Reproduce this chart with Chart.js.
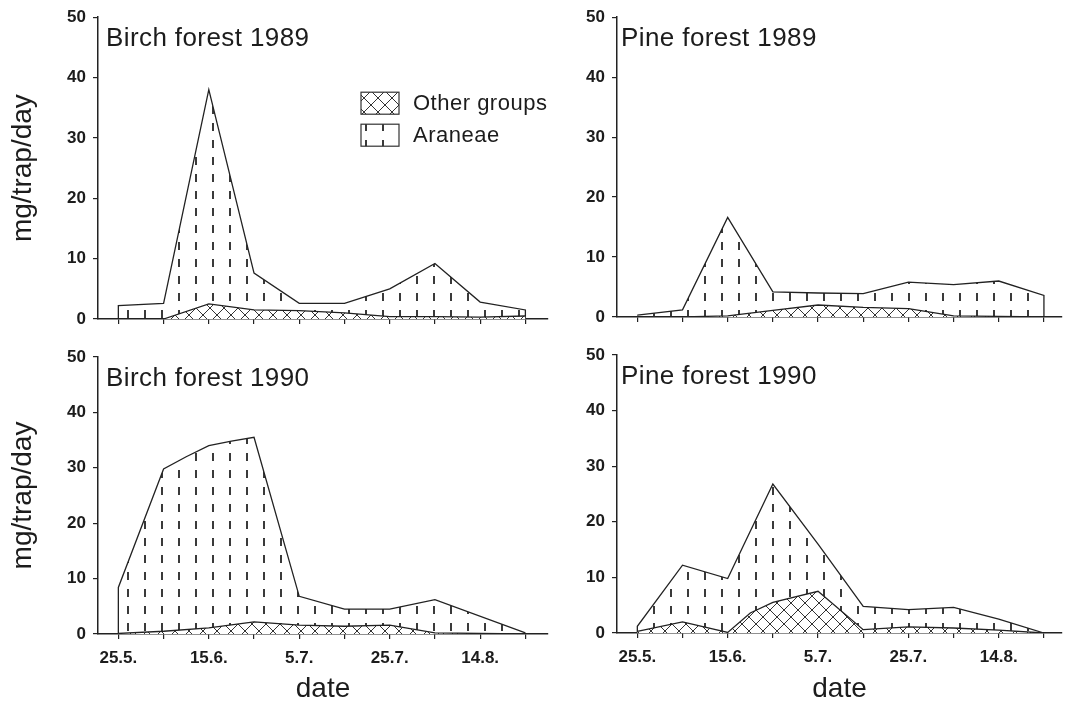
<!DOCTYPE html>
<html>
<head>
<meta charset="utf-8">
<script src="https://cdn.jsdelivr.net/npm/chart.js@4.4.1/dist/chart.umd.min.js"></script>
<style>
  html, body { margin: 0; padding: 0; background: #fff; }
  #wrap { position: relative; width: 1065px; height: 703px; overflow: hidden; }
  canvas { position: absolute; }
</style>
</head>
<body>
<div id="wrap">
  <canvas id="birch89" width="560" height="340" style="left:0;top:0"></canvas>
  <canvas id="pine89" width="505" height="340" style="left:560px;top:0"></canvas>
  <canvas id="birch90" width="560" height="373" style="left:0;top:330px"></canvas>
  <canvas id="pine90" width="505" height="373" style="left:560px;top:330px"></canvas>
</div>
<script>
// x = days after 25 May
const tickDays = [0, 10, 20, 30, 40, 50, 60, 70, 80, 90];
const tickLabels = ['25.5.', '', '15.6.', '', '5.7.', '', '25.7.', '', '14.8.', ''];

// upper outline = Araneae (stacked on other groups)
const birch89AraneaeDays = [0, 0, 10, 20, 30, 40, 50, 60, 70, 80, 90, 90];
const birch89Araneae = [0, 2.2, 2.6, 38, 7.6, 2.6, 2.6, 5, 9.2, 2.8, 1.5, 0];
const birch89OtherDays = [0, 10, 20, 30, 40, 50, 60, 70, 80, 90];
const birch89Other = [0, 0, 2.5, 1.5, 1.4, 1.0, 0.4, 0.4, 0.3, 0.5];

const pine89AraneaeDays = [0, 10, 20, 30, 40, 50, 60, 70, 80, 90, 90];
const pine89Araneae = [0.3, 1.2, 16.6, 4.2, 4.0, 3.9, 5.8, 5.4, 6.0, 3.6, 0];
const pine89OtherDays = [0, 10, 20, 30, 40, 50, 60, 70, 80, 90];
const pine89Other = [0, 0, 0.2, 1.1, 2.0, 1.6, 1.4, 0.2, 0.1, 0];

const birch90AraneaeDays = [0, 0, 10, 15, 20, 25, 30, 40, 50, 60, 70, 90];
const birch90Araneae = [0, 8.4, 29.8, 32, 34, 34.8, 35.5, 6.8, 4.5, 4.5, 6.2, 0.2];
const birch90OtherDays = [0, 10, 20, 30, 40, 50, 60, 70, 80, 90];
const birch90Other = [0.1, 0.5, 1.1, 2.2, 1.6, 1.4, 1.6, 0.2, 0.1, 0];

const pine90AraneaeDays = [0, 0, 10, 20, 30, 40, 50, 60, 70, 80, 90];
const pine90Araneae = [0, 1.2, 12.2, 9.8, 26.8, 16, 4.8, 4.2, 4.6, 2.5, 0];
const pine90OtherDays = [0, 10, 20, 25, 30, 40, 50, 60, 70, 80, 90];
const pine90Other = [0.3, 2.0, 0.1, 3.6, 5.5, 7.5, 0.6, 1.1, 0.9, 0.5, 0];

const FONT = '"Liberation Sans", Arial, Helvetica, sans-serif';
const INK = '#1c1c1c';
Chart.defaults.font.family = FONT;
Chart.defaults.color = INK;

function pts(xs, ys) {
    return xs.map((x, i) => ({ x: x, y: ys[i] }));
}

// vertical dash fill (Araneae)
function dashPattern() {
    const c = document.createElement('canvas');
    c.width = 17; c.height = 17;
    const g = c.getContext('2d');
    g.fillStyle = '#3a3a3a';
    g.fillRect(8, 4, 2, 8);
    return g.createPattern(c, 'repeat');
}

// cross hatch fill (other groups)
function hatchPattern() {
    const s = 14;
    const c = document.createElement('canvas');
    c.width = s; c.height = s;
    const g = c.getContext('2d');
    g.fillStyle = '#fff';
    g.fillRect(0, 0, s, s);
    g.strokeStyle = '#333';
    g.lineWidth = 1;
    g.beginPath();
    g.moveTo(0, 0); g.lineTo(s, s);
    g.moveTo(s, 0); g.lineTo(0, s);
    g.stroke();
    return g.createPattern(c, 'repeat');
}

const dashes = dashPattern();
const hatch = hatchPattern();

const panelTitle = {
    id: 'panelTitle',
    afterDraw(chart, args, o) {
        const { ctx, chartArea } = chart;
        ctx.save();
        ctx.font = '26px ' + FONT;
        ctx.letterSpacing = '0.4px';
        ctx.fillStyle = INK;
        ctx.textBaseline = 'alphabetic';
        ctx.fillText(o.text, chartArea.left + o.dx, chartArea.top + 29);
        ctx.restore();
    }
};

const areaLegend = {
    id: 'areaLegend',
    afterDraw(chart, args, o) {
        if (!o.show) return;
        const { ctx, chartArea } = chart;
        const x = chartArea.left + 263;
        const y0 = chartArea.top + 75;
        ctx.save();
        chart.data.datasets.forEach((ds, i) => {
            const y = y0 + i * 32;
            ctx.fillStyle = ds.backgroundColor;
            ctx.fillRect(x, y, 38, 22);
            ctx.strokeStyle = '#333';
            ctx.lineWidth = 1.2;
            ctx.strokeRect(x, y, 38, 22);
            ctx.fillStyle = INK;
            ctx.font = '22px ' + FONT;
            ctx.letterSpacing = '0.5px';
            ctx.textBaseline = 'middle';
            ctx.fillText(ds.label, x + 52, y + 12);
        });
        ctx.restore();
    }
};

function makePanel(id, title, araneae, other, cfg) {
    return new Chart(document.getElementById(id), {
        type: 'line',
        data: {
            datasets: [{
                label: 'Other groups',
                data: other,
                fill: 'origin',
                backgroundColor: hatch,
                borderColor: '#222',
                borderWidth: 1.3,
                pointRadius: 0,
                tension: 0
            }, {
                label: 'Araneae',
                data: araneae,
                fill: 'origin',
                backgroundColor: dashes,
                borderColor: '#222',
                borderWidth: 1.3,
                pointRadius: 0,
                tension: 0
            }]
        },
        options: {
            responsive: false,
            animation: false,
            devicePixelRatio: 1,
            layout: { padding: { top: cfg.padTop, right: cfg.padRight, left: 0, bottom: 0 } },
            plugins: {
                legend: { display: false },
                tooltip: { enabled: false },
                panelTitle: { text: title, dx: cfg.titleDx },
                areaLegend: { show: !!cfg.legend }
            },
            scales: {
                x: {
                    type: 'linear',
                    min: -4.5,
                    max: cfg.xMax,
                    afterBuildTicks: s => { s.ticks = tickDays.map(v => ({ value: v })); },
                    afterFit: s => { s.height = cfg.xHeight; },
                    grid: { drawOnChartArea: false, drawTicks: true, tickLength: 5, color: '#222', lineWidth: 1.2 },
                    border: { display: true, color: '#222', width: 1.5 },
                    ticks: {
                        display: cfg.showX,
                        autoSkip: false,
                        maxRotation: 0,
                        padding: 9,
                        font: { size: 17, weight: 'bold' },
                        callback: (v, i) => tickLabels[i]
                    },
                    title: { display: cfg.showX, text: 'date', font: { size: 28, lineHeight: 1 }, padding: { top: 0, bottom: 0 } }
                },
                y: {
                    min: 0,
                    max: 50,
                    afterFit: s => { s.width = cfg.yWidth; },
                    grid: { drawOnChartArea: false, drawTicks: true, tickLength: 5, color: '#222', lineWidth: 1.2 },
                    border: { display: true, color: '#222', width: 1.5 },
                    ticks: { stepSize: 10, padding: 7, font: { size: 17, weight: 'bold' } },
                    title: { display: cfg.showY, text: 'mg/trap/day', font: { size: 28 }, padding: { top: 6, bottom: 0 } }
                }
            }
        },
        plugins: [panelTitle, areaLegend]
    });
}

makePanel('birch89', 'Birch forest 1989',
    pts(birch89AraneaeDays, birch89Araneae), pts(birch89OtherDays, birch89Other),
    { padTop: 15, padRight: 12, xMax: 95, xHeight: 21, yWidth: 98, showX: false, showY: true, titleDx: 8, legend: true });

makePanel('pine89', 'Pine forest 1989',
    pts(pine89AraneaeDays, pine89Araneae), pts(pine89OtherDays, pine89Other),
    { padTop: 14, padRight: 3, xMax: 94, xHeight: 23, yWidth: 57, showX: false, showY: false, titleDx: 4 });

makePanel('birch90', 'Birch forest 1990',
    pts(birch90AraneaeDays, birch90Araneae), pts(birch90OtherDays, birch90Other),
    { padTop: 27, padRight: 12, xMax: 95, xHeight: 69, yWidth: 98, showX: true, showY: true, titleDx: 8 });

makePanel('pine90', 'Pine forest 1990',
    pts(pine90AraneaeDays, pine90Araneae), pts(pine90OtherDays, pine90Other),
    { padTop: 25, padRight: 3, xMax: 94, xHeight: 70, yWidth: 57, showX: true, showY: false, titleDx: 4 });
</script>
</body>
</html>
